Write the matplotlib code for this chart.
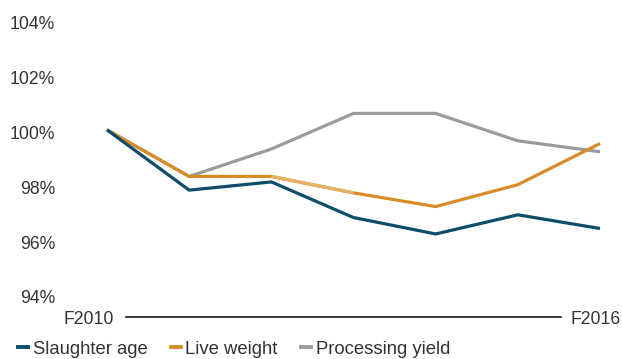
import matplotlib.pyplot as plt
from matplotlib.lines import Line2D
from matplotlib.transforms import blended_transform_factory

plt.rcParams['font.family'] = ['Liberation Sans', 'DejaVu Sans']

years = [2010, 2011, 2012, 2013, 2014, 2015, 2016]
slaughter_age = [100.1, 97.9, 98.2, 96.9, 96.3, 97.0, 96.5]
live_weight = [100.1, 98.4, 98.4, 97.8, 97.3, 98.1, 99.6]
processing_yield = [100.1, 98.4, 99.4, 100.7, 100.7, 99.7, 99.3]
y_ticks = [94, 96, 98, 100, 102, 104]

blue = '#0d4d6a'
orange = '#d88c27'
light_orange = '#e6b066'
gray = '#9b9b9b'
text_col = '#333333'
fs = 12.7

W, H = 622, 359
fig = plt.figure(figsize=(W / 100, H / 100), dpi=100)
ax = fig.add_axes([107 / W, (H - 297) / H, (600 - 107) / W, (297 - 23) / H])

lw = 2.3
ax.plot(years, processing_yield, color=gray, lw=lw, clip_on=False, solid_capstyle='butt')
ax.plot(years, live_weight, color=orange, lw=lw, clip_on=False, solid_capstyle='butt')
# paler stretch of the live weight line between F2012 and F2013
ax.plot(years[2:4], live_weight[2:4], color=light_orange, lw=lw, clip_on=False, solid_capstyle='butt')
ax.plot(years, slaughter_age, color=blue, lw=lw, clip_on=False, solid_capstyle='butt')

ax.set_xlim(2010, 2016)
ax.set_ylim(94, 104)
ax.set_xticks([])
ax.set_yticks([])
for s in ax.spines.values():
    s.set_visible(False)

# y labels, right-aligned well left of the plot
ytrans = blended_transform_factory(fig.transFigure, ax.transData)
for t in y_ticks:
    ax.text(55 / W, t, f'{t}%', transform=ytrans, ha='right', va='center_baseline',
            fontsize=fs, color=text_col)

# bottom axis: line with first and last year at either end
fy = (H - 317) / H
fig.add_artist(Line2D([126 / W, 561 / W], [fy, fy], color='black', lw=1.1))
fig.text(114 / W, fy, 'F2010', ha='right', va='center_baseline', fontsize=fs, color=text_col)
fig.text(621 / W, fy, 'F2016', ha='right', va='center_baseline', fontsize=fs, color=text_col)

handles = [Line2D([], [], color=c, lw=2.8) for c in (blue, orange, gray)]
fig.legend(handles, ['Slaughter age', 'Live weight', 'Processing yield'],
           loc='center left', bbox_to_anchor=(18 / W, (H - 349) / H), ncol=3,
           frameon=False, fontsize=13.3, handlelength=0.55, handletextpad=0.25,
           columnspacing=1.25, labelcolor=text_col, borderaxespad=0, borderpad=0)

fig.savefig('out.png', dpi=100)
